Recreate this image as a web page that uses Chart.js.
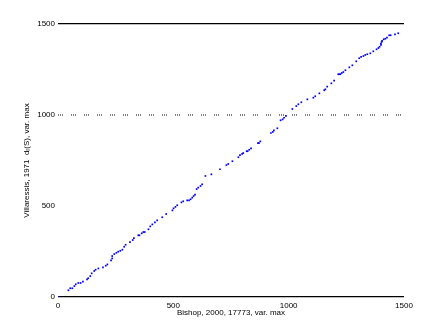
<!DOCTYPE html>
<html>
<head>
<meta charset="utf-8">
<script src="https://cdn.jsdelivr.net/npm/chart.js@4.4.1/dist/chart.umd.min.js"></script>
<style>
html,body{margin:0;padding:0;background:#fff;}
canvas{display:block;}
</style>
</head>
<body>
<canvas id="myChart" width="447" height="335"></canvas>
<script>
// x: Bishop 2000 (var. max), y: Villaressis 1971 (var. max)
var bishopMax=[0,45,53,62,71,77,88,98,108,126,131,140,146,157,163,175,195,207,214,230,
235,235,244,253,261,270,279,287,293,312,324,329,348,353,363,370,376,392,400,409,
420,430,452,469,496,501,509,517,535,543,560,568,575,582,588,594,601,608,618,625,
639,665,702,730,738,756,782,789,798,803,818,822,829,837,867,871,877,923,931,936,
951,965,974,980,988,1016,1033,1042,1055,1081,1107,1115,1133,1154,1159,1167,1185,1197,1215,1220,
1224,1230,1237,1246,1263,1276,1293,1306,1314,1324,1332,1341,1354,1367,1381,1389,1394,1400,1400,1403,
1405,1412,1419,1426,1436,1442,1461,1475];
var villaMax=[0,37,48,48,60,70,77,77,84,97,103,115,130,143,150,157,163,172,179,201,
212,225,236,243,249,254,260,276,287,302,313,324,339,339,350,357,357,372,388,399,
410,421,438,456,476,487,495,504,520,526,531,531,537,546,555,562,593,601,610,619,
665,674,702,725,731,746,768,779,786,791,801,801,809,817,846,846,855,901,907,916,
927,971,976,985,995,1033,1049,1059,1070,1086,1095,1103,1119,1136,1141,1156,1174,1189,1224,1224,
1224,1231,1236,1246,1262,1273,1295,1312,1319,1324,1330,1334,1339,1350,1361,1368,1375,1385,1393,1401,
1407,1416,1419,1425,1438,1438,1443,1449];
var tickVals=[0,500,1000,1500];
var solidLevels=[0,1500];
var dottedLevel=1000;

var pts=[];
for(var i=0;i<bishopMax.length;i++){pts.push({x:bishopMax[i],y:villaMax[i]});}

var fnt={family:"'Liberation Sans', Arial, sans-serif",size:8};
function plain(v){return String(v);}

var ctx=document.getElementById("myChart");
var myChart=new Chart(ctx,{
  type:'scatter',
  data:{
    datasets:[{
      label:'points',
      data:pts,
      pointStyle:'rect',
      pointRadius:1.2,
      pointBorderWidth:0,
      backgroundColor:'#0000ff',
      borderColor:'#0000ff'
    },{
      type:'line',
      label:'level',
      data:[{x:tickVals[0],y:dottedLevel},{x:tickVals[3],y:dottedLevel}],
      borderColor:'#000',
      borderWidth:1,
      borderDash:[1,1,1,1,1,8],
      pointRadius:0,
      fill:false
    }]
  },
  options:{
    responsive:false,
    animation:false,
    devicePixelRatio:1,
    layout:{padding:{left:0,top:24,right:43,bottom:0}},
    plugins:{legend:{display:false},tooltip:{enabled:false}},
    scales:{
      x:{
        type:'linear',min:0,max:1500,
        afterBuildTicks:function(s){s.ticks=tickVals.map(function(v){return {value:v};});},
        afterFit:function(s){s.height=38;},
        grid:{display:false,drawTicks:false},
        border:{display:false},
        ticks:{color:'#000',font:fnt,padding:4,maxRotation:0,callback:plain},
        title:{display:true,text:'Bishop, 2000, 17773, var. max',color:'#000',font:fnt,padding:{top:0,bottom:17}}
      },
      y:{
        type:'linear',min:0,max:1500,
        afterBuildTicks:function(s){s.ticks=tickVals.map(function(v){return {value:v};});},
        afterFit:function(s){s.width=58;},
        grid:{
          drawTicks:false,
          lineWidth:1.2,
          color:function(c){return (c.tick && solidLevels.indexOf(c.tick.value)>=0)?'#000':'rgba(0,0,0,0)';}
        },
        border:{display:false},
        ticks:{color:'#000',font:fnt,padding:3,callback:plain},
        title:{display:true,text:'Villaressis, 1971  dᵣ(S), var. max',color:'#000',font:fnt,padding:{top:22,bottom:0}}
      }
    }
  }
});
</script>
</body>
</html>
